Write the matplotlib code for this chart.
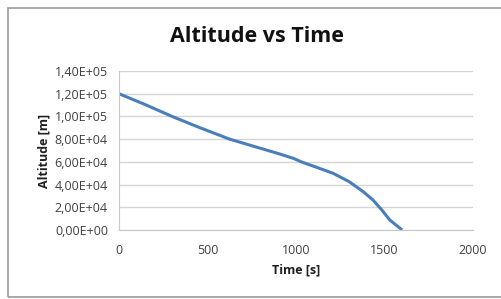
import numpy as np
import matplotlib
matplotlib.use('Agg')
from matplotlib import pyplot as plt
from matplotlib.patches import Rectangle

# values
time_s = [0, 150, 300, 450, 625, 770, 900, 985, 1030, 1120, 1210, 1300,
          1345, 1380, 1435, 1485, 1530, 1600]
altitude_m = [120000, 110300, 100000, 90500, 80000, 73300, 67300, 63100, 60000,
              55000, 49900, 42600, 37600, 33700, 26400, 17600, 8800, 0]
y_ticks = [0, 20000, 40000, 60000, 80000, 100000, 120000, 140000]
y_tick_labels = ['0,00E+00', '2,00E+04', '4,00E+04', '6,00E+04', '8,00E+04',
                 '1,00E+05', '1,20E+05', '1,40E+05']
x_ticks = [0, 500, 1000, 1500, 2000]

plt.rcParams['font.family'] = ['Open Sans', 'DejaVu Sans']

fig = plt.figure(figsize=(5.01, 2.99), dpi=100)
ax = fig.add_axes([119/501, 69/299, 354/501, 159/299])

# outer chart frame
fig.patches.append(Rectangle((8/501, 2/299), 1.0, 289/299, transform=fig.transFigure,
                             fill=False, edgecolor='#9a9a9a', linewidth=1.2))

ax.plot(time_s, altitude_m, color='#4a7ebb', linewidth=2.2, solid_capstyle='butt',
        solid_joinstyle='round')

ax.set_xlim(0, 2000)
ax.set_ylim(0, 140000)
ax.set_xticks(x_ticks)
ax.set_xticklabels([str(t) for t in x_ticks])
ax.set_yticks(y_ticks)
ax.set_yticklabels(y_tick_labels)
ax.tick_params(length=0, labelsize=9, colors='#404040', pad=8)
ax.tick_params(axis='x', pad=10)

ax.grid(axis='y', color='#d4d4d4', linewidth=1)
ax.set_axisbelow(True)
for side in ['top', 'right']:
    ax.spines[side].set_visible(False)
for side in ['left', 'bottom']:
    ax.spines[side].set_color('#c8c8c8')

ax.set_xlabel('Time [s]', fontsize=9, fontweight='bold', color='#202020', labelpad=5)
ax.set_ylabel('Altitude [m]', fontsize=9, fontweight='bold', color='#202020', labelpad=3)
fig.text(257/501, 1 - 37/299, 'Altitude vs Time', ha='center', va='center',
         fontsize=15.5, fontweight='bold', color='#111111')

fig.savefig('out.png', dpi=100)
